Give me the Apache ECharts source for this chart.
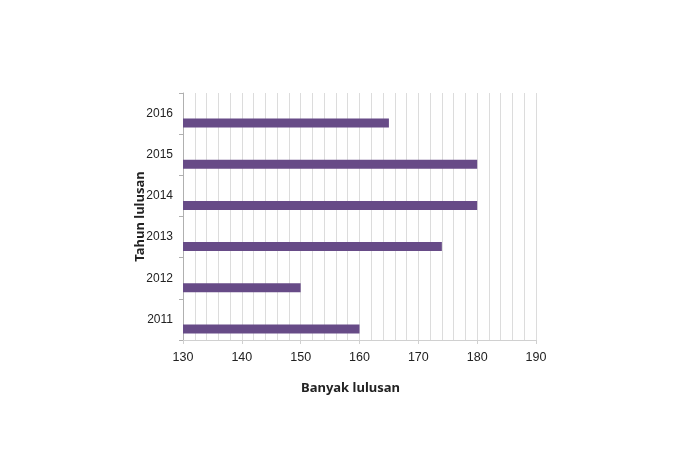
<!DOCTYPE html>
<html>
<head>
<meta charset="utf-8">
<script src="https://cdn.jsdelivr.net/npm/echarts@6/dist/echarts.min.js"></script>
<style>
  html, body { margin: 0; padding: 0; background: #fff; }
  #chart { width: 700px; height: 467px; }
</style>
</head>
<body>
<div id="chart"></div>
<script>
// data
var years = ['2011', '2012', '2013', '2014', '2015', '2016'];
var graduates = [160, 150, 174, 180, 180, 165];
var xTicks = [130, 140, 150, 160, 170, 180, 190];

var chart = echarts.init(document.getElementById('chart'));
var labelFont = "'Liberation Sans Narrow', 'Liberation Sans', sans-serif";

chart.setOption({
  backgroundColor: '#fff',
  animation: false,
  grid: { left: 183, right: 164, top: 93, bottom: 127 },
  xAxis: {
    type: 'value',
    min: xTicks[0],
    max: xTicks[xTicks.length - 1],
    interval: 10,
    name: 'Banyak lulusan',
    nameLocation: 'middle',
    nameGap: 42,
    nameTextStyle: { fontFamily: 'Noto Sans', fontWeight: 'bold', fontSize: 13, color: '#222', padding: [0, 18, 0, 0] },
    axisLine: { show: true, lineStyle: { color: '#d0d0d0' } },
    axisTick: { show: true, length: 4, lineStyle: { color: '#d0d0d0' } },
    axisLabel: { fontFamily: labelFont, fontSize: 12.5, color: '#222', margin: 11 },
    splitLine: { show: true, lineStyle: { color: '#dcdcdc' } },
    minorTick: { show: false, splitNumber: 5 },
    minorSplitLine: { show: true, lineStyle: { color: '#dcdcdc' } }
  },
  yAxis: {
    type: 'category',
    data: years,
    name: 'Tahun lulusan',
    nameLocation: 'middle',
    nameGap: 36,
    nameRotate: 90,
    nameMoveOverlap: false,
    nameTextStyle: { fontFamily: 'Noto Sans', fontWeight: 'bold', fontSize: 13, color: '#222' },
    axisLine: { show: true, lineStyle: { color: '#b0b0b0' } },
    axisTick: { show: true, length: 4, lineStyle: { color: '#b0b0b0' } },
    axisLabel: { fontFamily: labelFont, fontSize: 12, color: '#222', margin: 10 }
  },
  series: [
    {
      // spacer so the real bars sit in the lower half of each row
      type: 'bar',
      data: years.map(function () { return null; }),
      barWidth: 9,
      barGap: '111%',
      itemStyle: { color: 'transparent' },
      silent: true
    },
    {
      type: 'bar',
      data: graduates,
      barWidth: 9,
      barGap: '111%',
      itemStyle: { color: '#674b87' }
    }
  ]
});
</script>
</body>
</html>
